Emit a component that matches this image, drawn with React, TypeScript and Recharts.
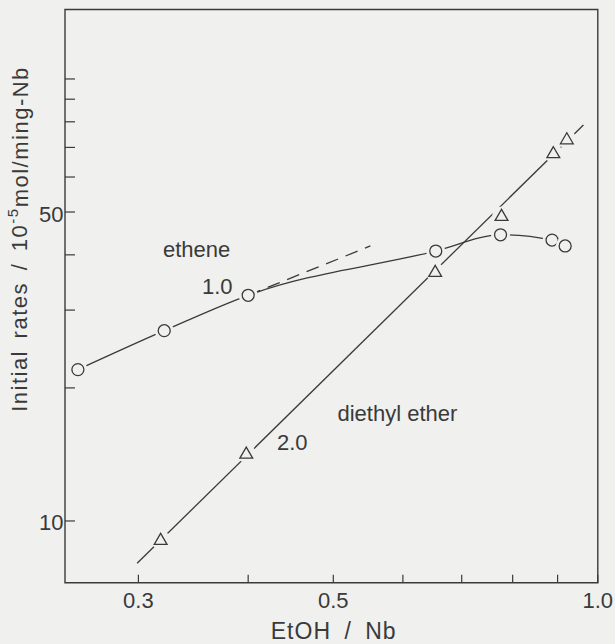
import React from "react";
import { ComposedChart, Line, Scatter, XAxis, YAxis, ReferenceArea } from "recharts";

// ethene: circles
const etheneRatio = [0.256, 0.321, 0.4, 0.654, 0.775, 0.887, 0.918];
const etheneRate = [22.0, 26.95, 32.4, 40.8, 44.4, 43.2, 41.9];

// diethyl ether: triangles
const etherRatio = [0.318, 0.398, 0.653, 0.777, 0.89, 0.922];
const etherRate = [9.06, 14.2, 36.6, 49.0, 67.9, 73.0];

// straight line (slope 2.0) through the ether points, ends
const etherFitRatio = [0.299, 0.963];
const etherFitRate = [8.02, 78.7];

// dashed slope-1.0 guide from the third ethene point
const guideRatio = [0.4, 0.551];
const guideRate = [32.4, 41.9];

const xTicks = [0.3, 0.4, 0.5, 0.6, 0.7, 0.8, 0.9, 1.0];
const xTickLabels = ["0.3", "", "0.5", "", "", "", "", "1.0"];
const yTicks = [10, 20, 30, 40, 50, 60, 70, 80, 90, 100];
const yTickLabels = ["10", "", "", "", "50", "", "", "", "", ""];

const X_DOMAIN: [number, number] = [0.2475, 1.0];
const Y_DOMAIN: [number, number] = [7.25, 143.6];

const BG = "#f0f0ee";
const INK = "#3a3a3a";
const FONT = "'Liberation Sans', Arial, sans-serif";

const toPoints = (xs: number[], ys: number[]) => xs.map((x, i) => ({ x, y: ys[i] }));

const ethene = toPoints(etheneRatio, etheneRate);
const ether = toPoints(etherRatio, etherRate);
const etherFit = toPoints(etherFitRatio, etherFitRate);
const guide = toPoints(guideRatio, guideRate);

function CircleMark(props: any) {
  const { cx, cy } = props;
  if (cx == null || cy == null) return <g />;
  return (
    <g>
      <circle cx={cx} cy={cy} r={9.5} fill={BG} />
      <circle cx={cx} cy={cy} r={6} fill="none" stroke={INK} strokeWidth={1.3} />
    </g>
  );
}

function TriangleMark(props: any) {
  const { cx, cy } = props;
  if (cx == null || cy == null) return <g />;
  const pts = `${cx},${cy - 6.6} ${cx - 6.4},${cy + 4.4} ${cx + 6.4},${cy + 4.4}`;
  return (
    <g>
      <circle cx={cx} cy={cy} r={9.5} fill={BG} />
      <polygon points={pts} fill="none" stroke={INK} strokeWidth={1.3} strokeLinejoin="miter" />
    </g>
  );
}

function XTick(props: any) {
  const { x, y, payload } = props;
  const i = xTicks.indexOf(payload.value);
  const label = i >= 0 ? xTickLabels[i] : "";
  return (
    <g>
      <line x1={x} y1={y} x2={x} y2={y - 8} stroke={INK} strokeWidth={1.2} />
      {label && (
        <text x={x} y={y + 25.6} textAnchor="middle" fontFamily={FONT} fontSize={22} fill={INK}>
          {label}
        </text>
      )}
    </g>
  );
}

function YTick(props: any) {
  const { x, y, payload } = props;
  const i = yTicks.indexOf(payload.value);
  const label = i >= 0 ? yTickLabels[i] : "";
  return (
    <g>
      <line x1={x} y1={y} x2={x + 10} y2={y} stroke={INK} strokeWidth={1.2} />
      {label && (
        <text x={x - 1.5} y={y + 9.5} textAnchor="end" fontFamily={FONT} fontSize={22} fill={INK}>
          {label}
        </text>
      )}
    </g>
  );
}

export default function App() {
  return (
    <div style={{ position: "absolute", left: 0, top: 0, width: 615, height: 644, background: BG }}>
      <ComposedChart
        width={615}
        height={644}
        margin={{ top: 9.5, right: 17.2, bottom: 31.3, left: 25 }}
      >
        <XAxis
          type="number"
          dataKey="x"
          scale="log"
          domain={X_DOMAIN}
          allowDataOverflow
          ticks={xTicks}
          interval={0}
          tick={<XTick />}
          tickLine={false}
          axisLine={false}
          tickSize={0}
          tickMargin={0}
          height={30}
        />
        <YAxis
          type="number"
          dataKey="y"
          scale="log"
          domain={Y_DOMAIN}
          allowDataOverflow
          ticks={yTicks}
          interval={0}
          tick={<YTick />}
          tickLine={false}
          axisLine={false}
          tickSize={0}
          tickMargin={0}
          width={40}
        />
        <ReferenceArea
          x1={X_DOMAIN[0]}
          x2={X_DOMAIN[1]}
          y1={Y_DOMAIN[0]}
          y2={Y_DOMAIN[1]}
          fill="none"
          stroke={INK}
          strokeWidth={1.4}
          ifOverflow="visible"
        />

        <Line
          data={ethene}
          dataKey="y"
          type="monotone"
          stroke={INK}
          strokeWidth={1.3}
          dot={false}
          activeDot={false}
          isAnimationActive={false}
        />
        <Line
          data={guide}
          dataKey="y"
          type="linear"
          stroke={INK}
          strokeWidth={1.3}
          strokeDasharray="13 8"
          dot={false}
          activeDot={false}
          isAnimationActive={false}
        />
        <Line
          data={etherFit}
          dataKey="y"
          type="linear"
          stroke={INK}
          strokeWidth={1.3}
          dot={false}
          activeDot={false}
          isAnimationActive={false}
        />
        <Scatter data={ethene} shape={(p: any) => <CircleMark {...p} />} isAnimationActive={false} />
        <Scatter data={ether} shape={(p: any) => <TriangleMark {...p} />} isAnimationActive={false} />

        <text x={163} y={256.5} fontFamily={FONT} fontSize={22} fill={INK}>ethene</text>
        <text x={202} y={294} fontFamily={FONT} fontSize={22} fill={INK}>1.0</text>
        <text x={337.5} y={421} fontFamily={FONT} fontSize={22} fill={INK}>diethyl ether</text>
        <text x={277} y={450} fontFamily={FONT} fontSize={22} fill={INK}>2.0</text>

        <text
          x={333.7}
          y={639}
          textAnchor="middle"
          fontFamily={FONT}
          fontSize={23}
          letterSpacing={1}
          wordSpacing={6}
          fill={INK}
        >
          EtOH / Nb
        </text>
        <text
          transform="translate(26.7,239) rotate(-90)"
          textAnchor="middle"
          fontFamily={FONT}
          fontSize={22}
          letterSpacing={1.5}
          wordSpacing={4}
          fill={INK}
        >
          Initial rates / 10
          <tspan fontSize={15} dy={-8.4}>-5</tspan>
          <tspan dy={10}>mol/ming-Nb</tspan>
        </text>
      </ComposedChart>
    </div>
  );
}
